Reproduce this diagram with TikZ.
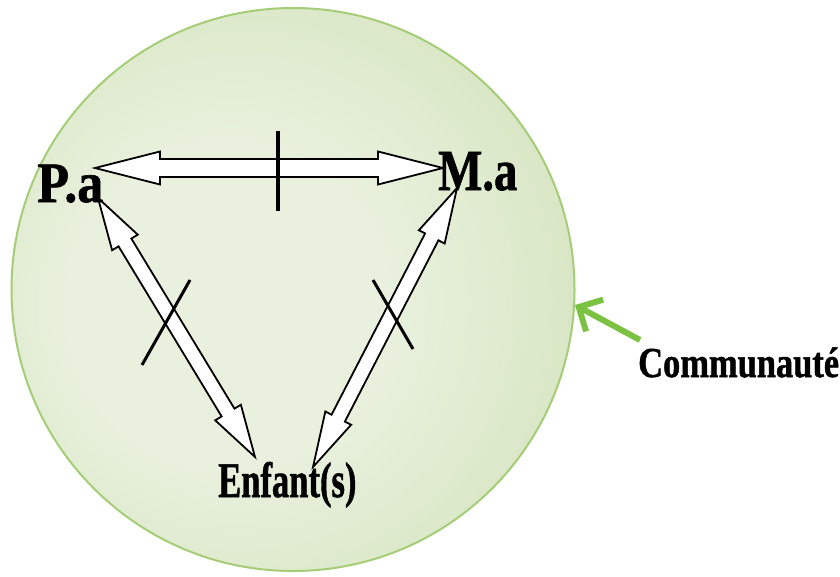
\documentclass[tikz,border=0pt]{standalone}
\usepackage{fontspec}
\setmainfont{Liberation Serif}
\newfontfamily\lblfont{Liberation Serif}[FakeBold=1.2]
\usetikzlibrary{calc,arrows.meta}
\definecolor{cin}{RGB}{233,241,222}
\definecolor{cout}{RGB}{194,215,160}
\definecolor{cedge}{RGB}{165,205,120}
\definecolor{cgreen}{RGB}{124,194,66}
\pgfdeclareradialshading{commshade}{\pgfpoint{-8bp}{-2bp}}{color(0bp)=(cin); color(14bp)=(cin); color(52bp)=(cout)}
\tikzset{
  lbl/.style={inner sep=0pt, anchor=base west, font=\lblfont\bfseries},
  blk/.style={draw=black, fill=white, line width=1.8pt, line join=miter},
  bar/.style={draw=black, line width=3.5pt},
}
\newcommand\blockarrow[5]{%
  \path ($(#1)!#5!(#2)$) coordinate (ba-p) ($(#2)!#5!(#1)$) coordinate (ba-q);
  \draw[blk] (#1) -- ($(ba-p)!#4!90:(#2)$) -- ($(ba-p)!#3!90:(#2)$)
    -- ($(ba-q)!#3!-90:(#1)$) -- ($(ba-q)!#4!-90:(#1)$) -- (#2)
    -- ($(ba-q)!#4!90:(#1)$) -- ($(ba-q)!#3!90:(#1)$)
    -- ($(ba-p)!#3!-90:(#2)$) -- ($(ba-p)!#4!-90:(#2)$) -- cycle;}
\begin{document}
\begin{tikzpicture}[x=1pt,y=-1pt]
\useasboundingbox (0,0) rectangle (840,576);
\node[circle, minimum size=563pt, inner sep=0pt, shading=commshade, draw=cedge, line width=2pt] (circ) at (293,289.5) {};
% arrow tips
\coordinate (pa-r) at (95,168);
\coordinate (ma-l) at (443,168);
\coordinate (pa-d) at (98,198);
\coordinate (enf-l) at (255,457);
\coordinate (ma-d) at (457,188);
\coordinate (enf-r) at (313,467);
\blockarrow{pa-r}{ma-l}{9pt}{16.5pt}{65pt}
\blockarrow{pa-d}{enf-l}{7.5pt}{15pt}{52pt}
\blockarrow{ma-d}{enf-r}{7.5pt}{14.5pt}{55pt}
% bars
\coordinate (b1a) at (278,131); \coordinate (b1b) at (278,211);
\coordinate (b2a) at (142,365); \coordinate (b2b) at (190,280);
\coordinate (b3a) at (373,280); \coordinate (b3b) at (413,349);
\draw[bar] (b1a) -- (b1b);
\draw[bar, line width=3pt] (b2a) -- (b2b);
\draw[bar, line width=3pt] (b3a) -- (b3b);
% labels
\node[lbl] (pa) at (37,202) {\scalebox{0.93}[1.02]{\fontsize{56}{56}\selectfont P.a}};
\node[lbl] (ma) at (438,190) {\scalebox{0.82}[1.02]{\fontsize{57}{57}\selectfont M.a}};
\node[lbl] (enf) at (218,497) {\scalebox{0.72}[1.04]{\fontsize{48}{48}\selectfont Enfant(s)}};
\node[lbl] (com) at (638,377) {\scalebox{0.84}[1.04]{\fontsize{41}{41}\selectfont Communauté}};
% green pointer
\coordinate (gtail) at (640,340);
\coordinate (gtip) at (575,305);
\draw[cgreen, line width=6pt, -{Straight Barb[length=18pt,width=36pt]}] (gtail) -- (gtip);
\end{tikzpicture}
\end{document}
